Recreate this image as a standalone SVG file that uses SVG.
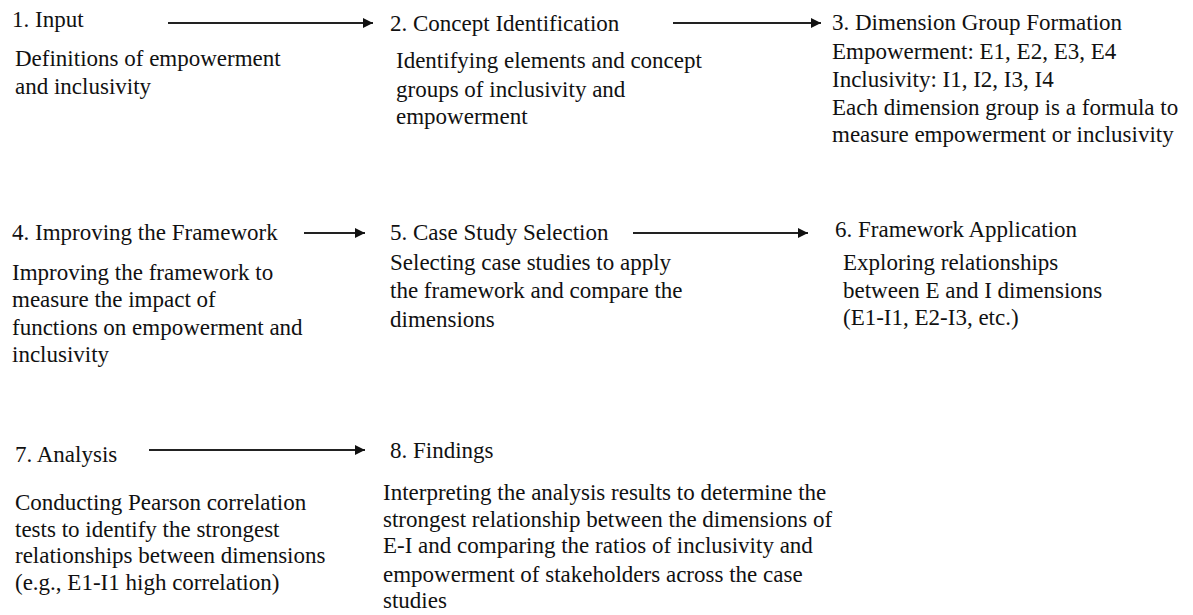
<svg xmlns="http://www.w3.org/2000/svg" width="1193" height="615" viewBox="0 0 1193 615">
<style>
text{font-family:"Liberation Serif","Times New Roman",serif;font-size:23px;fill:#111}
.c line{stroke:#222;stroke-width:2}
</style>
<defs>
<marker id="ah" viewBox="0 0 10 10" refX="10" refY="5" markerWidth="5" markerHeight="5" orient="auto" markerUnits="strokeWidth">
<path d="M0,0 L10,5 L0,10 z" fill="#111"/>
</marker>
</defs>
<rect width="1193" height="615" fill="#fff"/>
<g id="n1">
<text x="12" y="27">1. Input</text>
<text x="15" y="66">Definitions of empowerment</text>
<text x="15" y="94">and inclusivity</text>
</g>
<g id="n2">
<text x="390" y="31">2. Concept Identification</text>
<text x="396" y="68">Identifying elements and concept</text>
<text x="396" y="97">groups of inclusivity and</text>
<text x="396" y="124">empowerment</text>
</g>
<g id="n3">
<text x="832" y="30">3. Dimension Group Formation</text>
<text x="832" y="59">Empowerment: E1, E2, E3, E4</text>
<text x="832" y="87">Inclusivity: I1, I2, I3, I4</text>
<text x="832" y="115">Each dimension group is a formula to</text>
<text x="832" y="142">measure empowerment or inclusivity</text>
</g>
<g id="n4">
<text x="12" y="240">4. Improving the Framework</text>
<text x="12" y="280">Improving the framework to</text>
<text x="12" y="307">measure the impact of</text>
<text x="12" y="335">functions on empowerment and</text>
<text x="12" y="362">inclusivity</text>
</g>
<g id="n5">
<text x="390" y="240">5. Case Study Selection</text>
<text x="390" y="270">Selecting case studies to apply</text>
<text x="390" y="298">the framework and compare the</text>
<text x="390" y="327">dimensions</text>
</g>
<g id="n6">
<text x="835" y="237">6. Framework Application</text>
<text x="843" y="270">Exploring relationships</text>
<text x="843" y="298">between E and I dimensions</text>
<text x="843" y="325">(E1-I1, E2-I3, etc.)</text>
</g>
<g id="n7">
<text x="15" y="462">7. Analysis</text>
<text x="15" y="510">Conducting Pearson correlation</text>
<text x="15" y="537">tests to identify the strongest</text>
<text x="15" y="563">relationships between dimensions</text>
<text x="15" y="590">(e.g., E1-I1 high correlation)</text>
</g>
<g id="n8">
<text x="390" y="458">8. Findings</text>
<text x="383" y="500">Interpreting the analysis results to determine the</text>
<text x="383" y="527">strongest relationship between the dimensions of</text>
<text x="383" y="553">E-I and comparing the ratios of inclusivity and</text>
<text x="383" y="582">empowerment of stakeholders across the case</text>
<text x="383" y="608">studies</text>
</g>
<g id="connectors" class="c">
<line x1="168" y1="23" x2="373" y2="23" marker-end="url(#ah)"/>
<line x1="673" y1="23" x2="821" y2="23" marker-end="url(#ah)"/>
<line x1="304" y1="233" x2="365" y2="233" marker-end="url(#ah)"/>
<line x1="633" y1="233" x2="808" y2="233" marker-end="url(#ah)"/>
<line x1="149" y1="450" x2="365" y2="450" marker-end="url(#ah)"/>
</g>
</svg>
